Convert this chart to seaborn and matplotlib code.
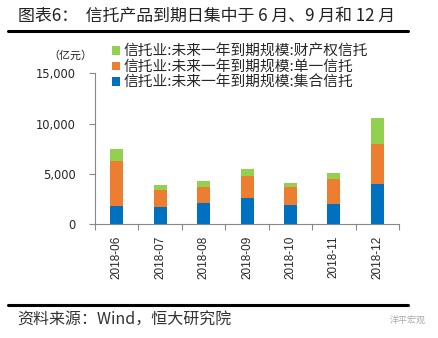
import matplotlib
matplotlib.use("Agg")
import matplotlib.pyplot as plt
import seaborn as sns
import pandas as pd
import numpy as np
from matplotlib.ticker import FuncFormatter, FixedLocator
from matplotlib.patches import Patch
from matplotlib.lines import Line2D

months = ["2018-06", "2018-07", "2018-08", "2018-09", "2018-10", "2018-11", "2018-12"]
jihe = [1850, 1750, 2120, 2585, 1950, 2050, 4035]      # 集合信托
danyi = [4440, 1690, 1620, 2185, 1730, 2425, 3975]     # 单一信托
caichan = [1225, 465, 535, 700, 395, 655, 2525]        # 财产权信托
series_names = ["信托业:未来一年到期规模:财产权信托",
                "信托业:未来一年到期规模:单一信托",
                "信托业:未来一年到期规模:集合信托"]
colors = ["#92D050", "#ED7D31", "#0070C0"]
yticks = [0, 5000, 10000, 15000]

sns.set_theme(style="white")
plt.rcParams['font.family'] = ['Noto Sans CJK SC', 'DejaVu Sans']

df = pd.DataFrame({"month": months, "jihe": jihe, "danyi": danyi, "caichan": caichan})
df["lvl2"] = df["jihe"] + df["danyi"]
df["lvl3"] = df["lvl2"] + df["caichan"]

fig = plt.figure(figsize=(4.38, 3.38), dpi=100)
ax = fig.add_axes([0.217, 0.3364, 0.694, 0.4466])

for col, c in zip(["lvl3", "lvl2", "jihe"], colors):
    sns.barplot(data=df, x="month", y=col, color=c, width=0.3, ax=ax,
                saturation=1, edgecolor="none", linewidth=0)

ax.set_xlim(-0.5, 6.5)
ax.set_ylim(0, 15000)
ax.set_yticks(yticks)
ax.yaxis.set_major_formatter(FuncFormatter(lambda v, p: f"{int(v):,}"))
ax.set_xlabel("")
ax.set_ylabel("")

ax.xaxis.set_major_locator(FixedLocator(np.arange(-0.5, 7.0, 1.0)))
ax.xaxis.set_minor_locator(FixedLocator(np.arange(0, 7)))
ax.set_xticklabels([""] * 8)
ax.set_xticklabels(months, minor=True, rotation=90, fontsize=8.5,
                   family=['Liberation Sans', 'DejaVu Sans'])
ax.tick_params(axis="x", which="major", length=4, color="#888888", width=0.8, direction="out", bottom=True)
ax.tick_params(axis="x", which="minor", length=0, pad=8, bottom=True)
ax.tick_params(axis="y", which="major", length=4, color="#888888", width=0.8, direction="out", left=True,
               labelsize=8.3, pad=10)
for lab in ax.get_yticklabels():
    lab.set_family(['DejaVu Sans'])

for s in ["top", "right"]:
    ax.spines[s].set_visible(False)
for s in ["left", "bottom"]:
    ax.spines[s].set_color("#888888")
    ax.spines[s].set_linewidth(0.8)

handles = [Patch(facecolor=c, edgecolor="none") for c in colors]
leg = ax.legend(handles, series_names, loc="upper left", bbox_to_anchor=(0.035, 1.228),
                frameon=False, fontsize=10.6, handlelength=0.55, handleheight=0.55,
                handletextpad=0.25, labelspacing=0.08, borderaxespad=0)

fig.text(0.212, 0.836, "（亿元）", fontsize=7.9, ha="right", va="center", color="#222222")

# title
fig.text(0.04, 0.952, "图表6：  信托产品到期日集中于 6 月、9 月和 12 月", fontsize=12.2,
         ha="left", va="center", color="#222222")
fig.add_artist(Line2D([0.018, 0.932], [0.908, 0.908], color="black", linewidth=2.2))

# bottom
fig.add_artist(Line2D([0.018, 0.932], [0.098, 0.098], color="black", linewidth=2.2))
fig.text(0.04, 0.052, "资料来源：Wind，恒大研究院", fontsize=11.5, ha="left", va="center",
         color="#333333", style="italic")
fig.text(0.972, 0.052, "洋平宏观", fontsize=6.5, ha="right", va="center", color="#aaaaaa")

fig.savefig("out.png", dpi=100)
